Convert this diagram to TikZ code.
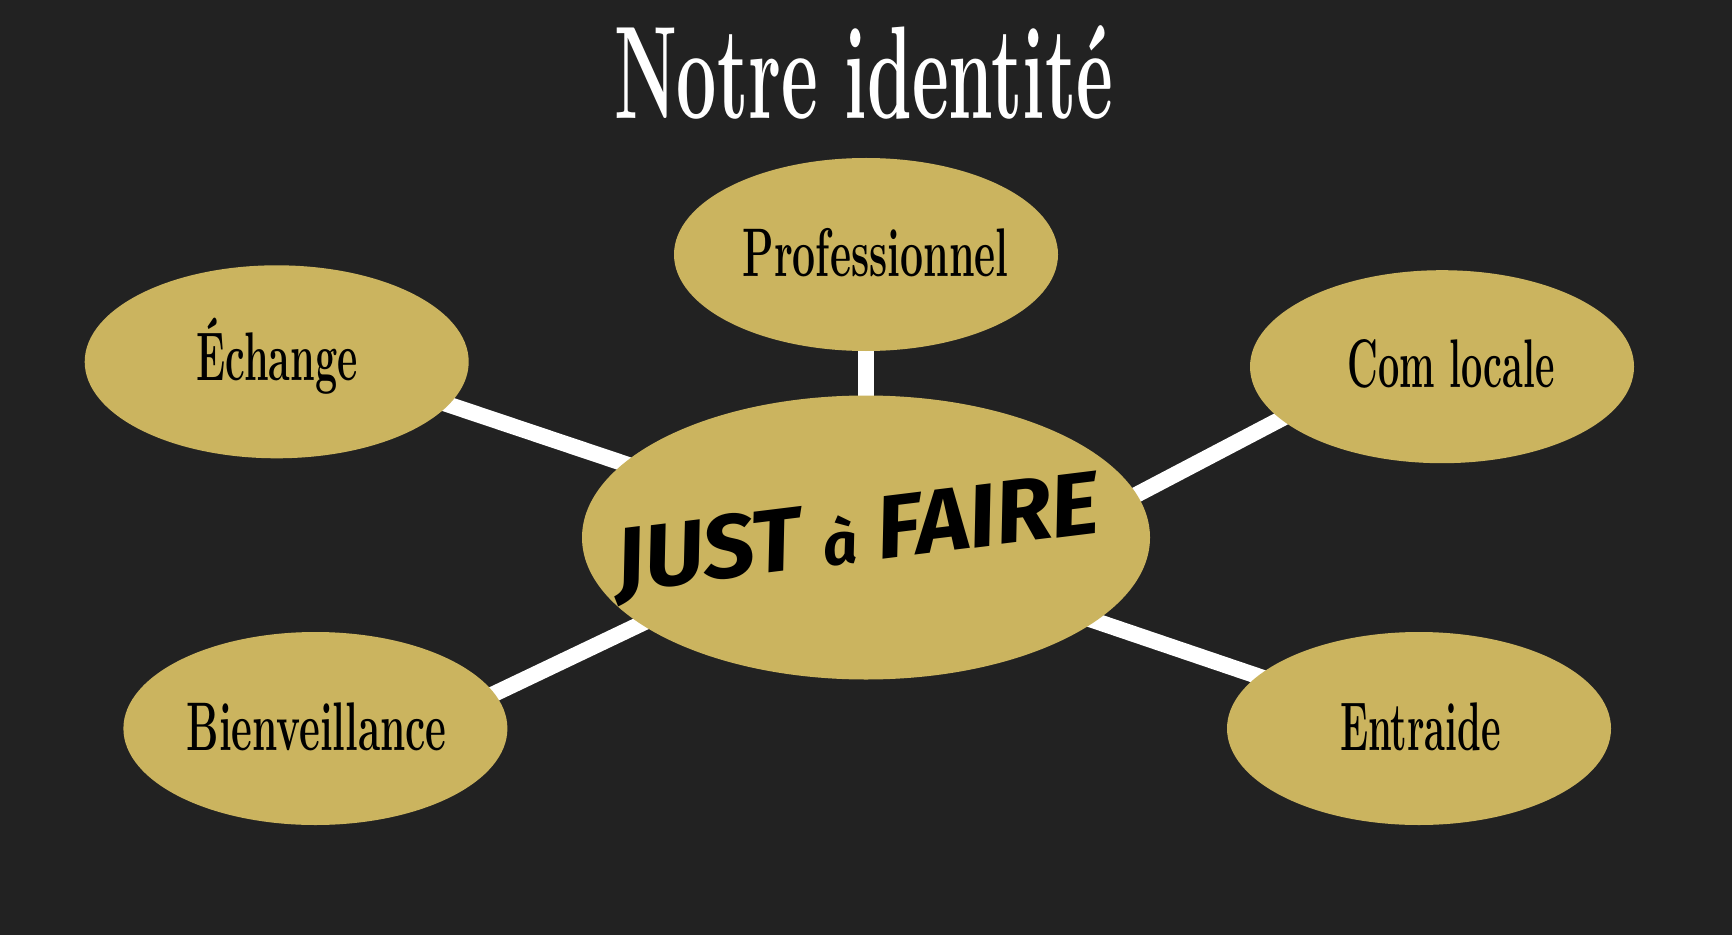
\documentclass[tikz,border=0pt]{standalone}
\usepackage{fontspec}
\usepackage{graphicx}
\usetikzlibrary{shapes.geometric}
\newfontfamily\brushfont{Fira Sans}
\definecolor{bgdark}{HTML}{222222}
\definecolor{gold}{HTML}{CBB45F}
\pgfdeclarelayer{backdrop}
\pgfdeclarelayer{links}
\pgfsetlayers{backdrop,links,main}
\newcommand{\fit}[2]{\resizebox{#1}{\height}{\bfseries #2}}
\tikzset{
  x=0.5pt,y=-0.5pt,
  bubble/.style={ellipse,fill=gold,inner sep=0pt,outer sep=0pt,minimum width=192pt,minimum height=96.5pt},
  hub/.style={ellipse,fill=gold,inner sep=0pt,outer sep=0pt,minimum width=284pt,minimum height=142pt},
  word/.style={anchor=base west,inner sep=0pt,outer sep=0pt,text=black,font=\fontsize{34.4}{36}\selectfont},
  link/.style={draw=white,line width=8pt,shorten <=-6pt,shorten >=-6pt},
}
\begin{document}
\begin{tikzpicture}
\useasboundingbox (0,0) rectangle (1732,935);
\begin{pgfonlayer}{backdrop}
\fill[bgdark] (0,0) rectangle (1732,935);
\end{pgfonlayer}
\node[hub] (centre) at (866,537.5) {};
\node[bubble] (pro) at (866,254.5) {};
\node[bubble] (ech) at (276.7,361.8) {};
\node[bubble] (com) at (1442,366.7) {};
\node[bubble] (bie) at (315.4,728.5) {};
\node[bubble] (ent) at (1419,728.5) {};
\begin{pgfonlayer}{links}
\draw[link] (pro.south) -- (centre.north);
\draw[link] (ech.-14.2) -- (centre.163.1);
\draw[link] (com.198.6) -- (centre.9.1);
\draw[link] (bie.11.1) -- (centre.201.3);
\draw[link] (ent.162.2) -- (centre.-20.8);
\end{pgfonlayer}
\node[word,text=white,font=\fontsize{66}{70}\selectfont] (title) at (614,119) {\fit{249.5pt}{Notre identité}};
\node[word] (tpro) at (742.5,277) {\fit{133pt}{Professionnel}};
\node[word] (tech) at (196.6,380) {\fit{80.5pt}{Échange}};
\node[word] (tcom) at (1347.6,387) {\fit{103.5pt}{Com locale}};
\node[word] (tbie) at (186.7,750) {\fit{130pt}{Bienveillance}};
\node[word] (tent) at (1340,750) {\fit{80.5pt}{Entraide}};
\node[inner sep=0pt,rotate=7,text=black] (logo) at (858,538)
  {\resizebox{243pt}{0.86\height}{\fontsize{52}{56}\selectfont\brushfont\bfseries\itshape JUST {\fontsize{34}{36}\selectfont à} FAIRE}};
\end{tikzpicture}
\end{document}
